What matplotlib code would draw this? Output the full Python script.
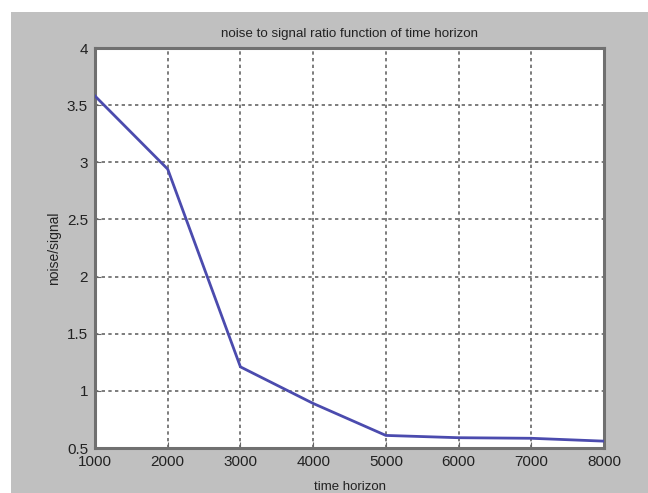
import matplotlib.pyplot as plt
from matplotlib.patches import Rectangle

# noise/signal ratio against time horizon
horizon = [1000, 2000, 3000, 4000, 5000, 6000, 7000, 8000]
ratio = [3.58, 2.94, 1.21, 0.89, 0.61, 0.59, 0.585, 0.56]
x_ticks = [1000, 2000, 3000, 4000, 5000, 6000, 7000, 8000]
y_ticks = [0.5, 1, 1.5, 2, 2.5, 3, 3.5, 4]

plt.rcParams['font.family'] = ['Liberation Sans', 'DejaVu Sans']

fig = plt.figure(figsize=(6.48, 4.93), dpi=100)
fig.patch.set_facecolor('white')
# grey figure panel, leaving a thin white margin on top and left
fig.patches.append(Rectangle((11 / 648, 0), 1, 1 - 12 / 493,
                             transform=fig.transFigure, facecolor='#c0c0c0',
                             edgecolor='none', zorder=-10))

ax = fig.add_axes([95 / 648, 45 / 493, 509 / 648, 400 / 493])
ax.set_zorder(1)
ax.set_facecolor('white')
ax.plot(horizon, ratio, color='#4b4bae', linewidth=2, zorder=3)

ax.set_xlim(1000, 8000)
ax.set_ylim(0.5, 4)
ax.set_xticks(x_ticks)
ax.set_yticks(y_ticks)
ax.set_yticklabels(['0.5', '1', '1.5', '2', '2.5', '3', '3.5', '4'])
ax.tick_params(direction='in', length=4, labelsize=11, color='#666666',
               labelcolor='#222222')
ax.tick_params(axis='x', pad=5)
ax.tick_params(axis='y', pad=5)

ax.grid(True, linestyle=(0, (2, 2)), color='#666666', linewidth=1.2)
for side in ax.spines.values():
    side.set_color('#707070')
    side.set_linewidth(2.2)

ax.set_title('noise to signal ratio function of time horizon', fontsize=9.6,
             color='#222222', pad=8)
ax.set_xlabel('time horizon', fontsize=9.5, color='#222222', labelpad=9)
ax.set_ylabel('noise/signal', fontsize=10, color='#222222', labelpad=4)

fig.savefig('out.png', dpi=100, facecolor=fig.get_facecolor())
